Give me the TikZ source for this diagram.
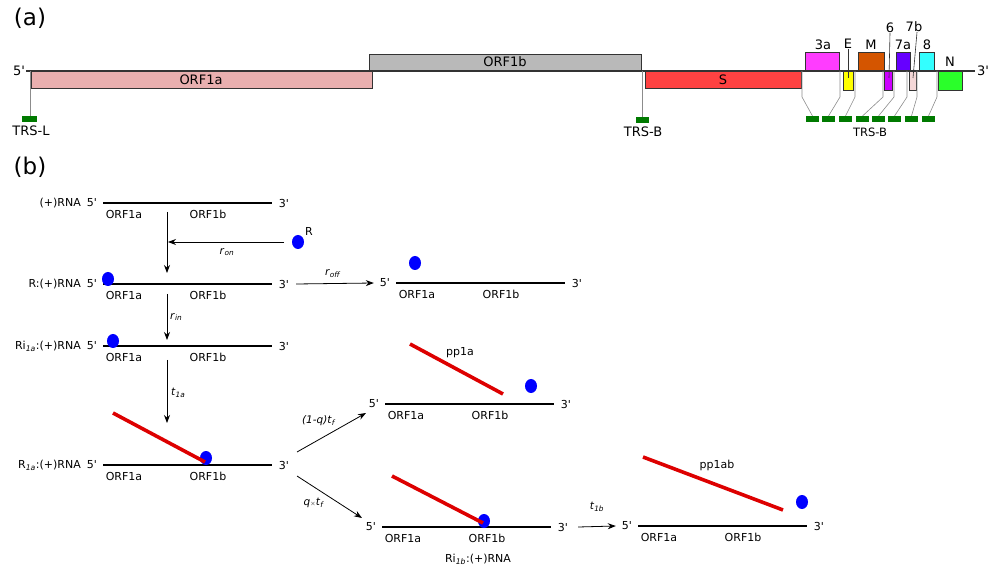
\documentclass[tikz,border=0pt]{standalone}
\usepackage{fontspec}
\setmainfont{DejaVu Sans}
\usetikzlibrary{arrows.meta}

\definecolor{orfa}{HTML}{E9AFAF}
\definecolor{orfb}{HTML}{B9B9B9}
\definecolor{spike}{HTML}{FF4242}
\definecolor{gthreea}{HTML}{FF3CFF}
\definecolor{genv}{HTML}{FFFF00}
\definecolor{gmem}{HTML}{D45500}
\definecolor{gsix}{HTML}{CC00FF}
\definecolor{gsevena}{HTML}{6600FF}
\definecolor{gsevenb}{HTML}{F4D7D7}
\definecolor{geight}{HTML}{33FFFF}
\definecolor{gnuc}{HTML}{2AFF2A}
\definecolor{trsgreen}{HTML}{007A00}
\definecolor{pepred}{HTML}{DD0000}

\def\pr{\textquotesingle}
\def\sub#1{\textsubscript{\textit{#1}}}
% one (+)RNA strand: left end, name
\def\strand(#1,#2)[#3]{
	\draw[strandline] (#1,#2) coordinate (#3l) -- ++(169,0) coordinate (#3r);
	\node[lbl] (#3five) at (#1-11,#2) {5\pr};
	\node[lbl] (#3three) at (#1+181,#2) {3\pr};
	\node[lbl] (#3a) at (#1+21,#2+11) {ORF1a};
	\node[lbl] (#3b) at (#1+105,#2+11) {ORF1b};
}

\tikzset{
	gene/.style={draw=black!80, line width=0.8pt},
	trs/.style={fill=trsgreen},
	link/.style={draw=black!45, line width=0.6pt},
	big/.style={font=\fontsize{13}{15}\selectfont, inner sep=0pt},
	lbl/.style={font=\fontsize{11}{13}\selectfont, inner sep=0pt},
	rate/.style={font=\fontsize{10.5}{12}\selectfont, inner sep=0pt},
	strandline/.style={line width=2.2pt},
	peptide/.style={line width=3.6pt, color=pepred},
	ribo/.style={fill=blue},
	react/.style={-{Stealth[length=8pt,width=6pt]}, line width=0.8pt}
}

\begin{document}
\begin{tikzpicture}[x=1pt,y=-1pt]
		%%%%% START %%%%%
		\useasboundingbox (0,0) rectangle (989,572);
		
		\node[font=\fontsize{23}{26}\selectfont, inner sep=0pt] (pa) at (30,18) {(a)};
		\node[font=\fontsize{23}{26}\selectfont, inner sep=0pt] (pb) at (30,167) {(b)};
		
		% genome map
		\draw[gene, fill=orfa] (31,71) rectangle (372,88);
		\draw[gene, fill=orfb] (369,54) rectangle (641,71);
		\draw[gene, fill=spike] (645,71) rectangle (801,88);
		\draw[gene, fill=gthreea] (805,52) rectangle (839,71);
		\draw[gene, fill=genv] (843,71) rectangle (853,90);
		\draw[gene, fill=gmem] (858,52) rectangle (884,71);
		\draw[gene, fill=gsix] (884,71) rectangle (892,90);
		\draw[gene, fill=gsevena] (896,52) rectangle (910,71);
		\draw[gene, fill=gsevenb] (909,71) rectangle (916,90);
		\draw[gene, fill=geight] (919,52) rectangle (934,71);
		\draw[gene, fill=gnuc] (938,71) rectangle (962,90);
		\draw[line width=1.2pt, color=black!80] (26,71) -- (975,71);
		
		\node[big] (g5) at (19,71) {5\pr};
		\node[big] (g3) at (983,71) {3\pr};
		\node[big] (orf1a) at (201,80) {ORF1a};
		\node[big] (orf1b) at (505,62) {ORF1b};
		\node[big] (gs) at (723,80) {S};
		\node[big] (g3a) at (823,45) {3a};
		\node[big] (ge) at (848,44) {E};
		\node[big] (gm) at (871,45) {M};
		\node[big] (g6) at (890,28) {6};
		\node[big] (g7a) at (903,45) {7a};
		\node[big] (g7b) at (914,27) {7b};
		\node[big] (g8) at (927,45) {8};
		\node[big] (gn) at (950,62) {N};
		\draw[line width=0.6pt, color=black!80] (ge.south) -- (848,78);
		\draw[line width=0.6pt, color=black!80] (g6.south) -- (889,78);
		\draw[line width=0.6pt, color=black!80] (g7b.south) ++(3,0) -- (913,78);
		
		% TRS
		\draw[link] (30,71) -- (30,116);
		\fill[trs] (22,116) rectangle (37,122);
		\node[big] (trsl) at (31,131) {TRS-L};
		\draw[link] (642,71) -- (642,117);
		\fill[trs] (636,117) rectangle (649,123);
		\node[big] (trsb) at (643,132) {TRS-B};
		\foreach \gx/\bx in {802/806,840/822,855/839,883/856,894/872,907/888,917/905,937/922}{
			\draw[link] (\gx,71) -- (\gx,97) -- (\bx+6.5,116);
			\fill[trs] (\bx,116) rectangle (\bx+13,122);
		}
		\node[font=\fontsize{11.5}{13}\selectfont, inner sep=0pt] (trsbs) at (870,132) {TRS-B};
		
		% translation scheme
		\strand(103,203)[s1]
		\node[lbl, anchor=east] (n1) at (81,203) {(+)RNA};
		\strand(103,284)[s2]
		\node[lbl, anchor=east] (n2) at (81,284) {R:(+)RNA};
		\fill[ribo] (108,279) ellipse (6 and 7);
		\strand(103,346)[s3]
		\node[lbl, anchor=east] (n3) at (81,346) {Ri\sub{1a}:(+)RNA};
		\fill[ribo] (113,341) ellipse (6 and 7);
		\strand(103,465)[s4]
		\node[lbl, anchor=east] (n4) at (81,465) {R\sub{1a}:(+)RNA};
		\fill[ribo] (206,458) ellipse (6 and 7);
		\draw[peptide] (113,413) -- (205,462);
		
		\strand(396,283)[s5]
		\fill[ribo] (415,263) ellipse (6 and 7);
		\strand(385,404)[s6]
		\fill[ribo] (531,386) ellipse (6 and 7);
		\draw[peptide] (410,344) -- (503,394);
		\node[lbl] (pp1a) at (460,353) {pp1a};
		\strand(382,527)[s7]
		\fill[ribo] (484,521) ellipse (6 and 7);
		\draw[peptide] (392,476) -- (483,523);
		\node[lbl] (n7) at (478,559) {Ri\sub{1b}:(+)RNA};
		\strand(638,526)[s8]
		\fill[ribo] (802,502) ellipse (6 and 7);
		\draw[peptide] (643,457) -- (783,510);
		\node[lbl] (pp1ab) at (717,465) {pp1ab};
		
		\fill[ribo] (298,242) ellipse (6 and 7);
		\node[lbl] (rr) at (309,231) {R};
		
		% reactions
		\coordinate (a1) at (167,212);
		\coordinate (a2) at (167,273);
		\draw[react] (a1) -- (a2);
		\coordinate (b1) at (284,242);
		\coordinate (b2) at (168,242);
		\draw[react] (b1) -- (b2);
		\node[rate] (ron) at (227,252) {\textit{r}\sub{on}};
		\coordinate (c1) at (167,294);
		\coordinate (c2) at (167,340);
		\draw[react] (c1) -- (c2);
		\node[rate, anchor=west] (rin) at (170,317) {\textit{r}\sub{in}};
		\coordinate (d1) at (167,360);
		\coordinate (d2) at (167,423);
		\draw[react] (d1) -- (d2);
		\node[rate, anchor=west] (t1a) at (171,393) {\textit{t}\sub{1a}};
		\draw[react] ([xshift=7pt]s2three.east) -- ([xshift=-6pt]s5five.west);
		\node[rate] (roff) at (333,274) {\textit{r}\sub{off}};
		\coordinate (e1) at (297,452);
		\coordinate (e2) at (366,413);
		\draw[react] (e1) -- (e2);
		\node[rate] (qa) at (319,421) {\textit{(1-q)t}\sub{f}};
		\coordinate (f1) at (297,476);
		\coordinate (f2) at (362,518);
		\draw[react] (f1) -- (f2);
		\node[rate] (qb) at (314,503) {\textit{q}{\fontsize{6}{7}\selectfont$\times$}\textit{t}\sub{f}};
		\draw[react] ([xshift=10pt]s7three.east) -- ([xshift=-6pt]s8five.west);
		\node[rate] (t1b) at (597,507) {\textit{t}\sub{1b}};
		
		%%%%% END %%%%%
	\end{tikzpicture}
\end{document}
